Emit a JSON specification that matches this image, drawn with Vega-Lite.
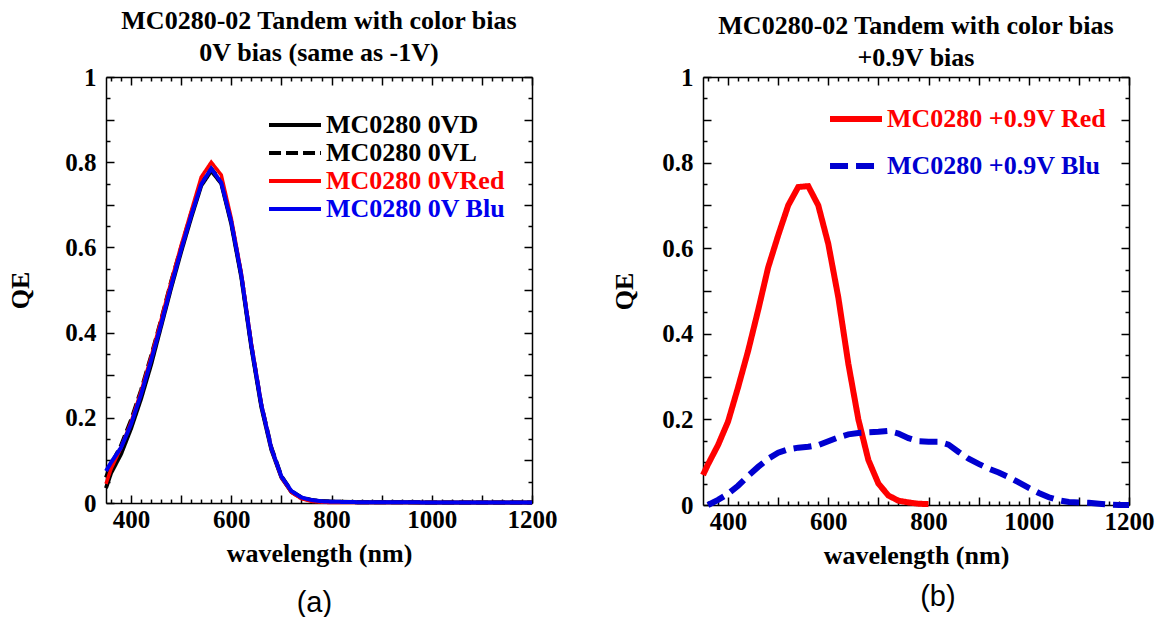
{
  "$schema": "https://vega.github.io/schema/vega-lite/v6.json",
  "background": "white",
  "padding": {"left": 7, "top": 8, "right": 2, "bottom": 0},
  "config": {
    "view": {"stroke": null},
    "axis": {
      "domainColor": "black", "domainWidth": 1.5, "tickColor": "black", "tickWidth": 1.5,
      "labelFont": "Liberation Serif", "labelFontWeight": "bold", "labelFontSize": 25, "labelColor": "black",
      "titleFont": "Liberation Serif", "titleFontWeight": "bold", "titleFontSize": 26, "titleColor": "black",
      "grid": false, "labelOverlap": false, "labelFlush": false
    },
    "legend": {
      "labelFont": "Liberation Serif", "labelFontWeight": "bold", "labelFontSize": 26, "labelLimit": 0,
      "padding": 0
    }
  },
  "datasets": {
    "a": [
      {"series": "MC0280 0VD", "wl": 350, "qe": 0.035}, {"series": "MC0280 0VD", "wl": 360, "qe": 0.07}, {"series": "MC0280 0VD", "wl": 380, "qe": 0.115}, {"series": "MC0280 0VD", "wl": 400, "qe": 0.175}, {"series": "MC0280 0VD", "wl": 420, "qe": 0.245}, {"series": "MC0280 0VD", "wl": 440, "qe": 0.325}, {"series": "MC0280 0VD", "wl": 460, "qe": 0.415}, {"series": "MC0280 0VD", "wl": 480, "qe": 0.505}, {"series": "MC0280 0VD", "wl": 500, "qe": 0.59}, {"series": "MC0280 0VD", "wl": 520, "qe": 0.67}, {"series": "MC0280 0VD", "wl": 540, "qe": 0.745}, {"series": "MC0280 0VD", "wl": 560, "qe": 0.78}, {"series": "MC0280 0VD", "wl": 580, "qe": 0.75}, {"series": "MC0280 0VD", "wl": 600, "qe": 0.655}, {"series": "MC0280 0VD", "wl": 620, "qe": 0.53}, {"series": "MC0280 0VD", "wl": 640, "qe": 0.365}, {"series": "MC0280 0VD", "wl": 660, "qe": 0.225}, {"series": "MC0280 0VD", "wl": 680, "qe": 0.125}, {"series": "MC0280 0VD", "wl": 700, "qe": 0.06}, {"series": "MC0280 0VD", "wl": 720, "qe": 0.026}, {"series": "MC0280 0VD", "wl": 740, "qe": 0.012}, {"series": "MC0280 0VD", "wl": 760, "qe": 0.006}, {"series": "MC0280 0VD", "wl": 780, "qe": 0.004}, {"series": "MC0280 0VD", "wl": 800, "qe": 0.003}, {"series": "MC0280 0VD", "wl": 850, "qe": 0.002}, {"series": "MC0280 0VD", "wl": 900, "qe": 0.002}, {"series": "MC0280 0VD", "wl": 950, "qe": 0.002}, {"series": "MC0280 0VD", "wl": 1000, "qe": 0.001}, {"series": "MC0280 0VD", "wl": 1050, "qe": 0.001}, {"series": "MC0280 0VD", "wl": 1100, "qe": 0.001}, {"series": "MC0280 0VD", "wl": 1150, "qe": 0.001}, {"series": "MC0280 0VD", "wl": 1200, "qe": 0.001},
      {"series": "MC0280 0VL", "wl": 350, "qe": 0.06}, {"series": "MC0280 0VL", "wl": 360, "qe": 0.09}, {"series": "MC0280 0VL", "wl": 380, "qe": 0.135}, {"series": "MC0280 0VL", "wl": 400, "qe": 0.195}, {"series": "MC0280 0VL", "wl": 420, "qe": 0.265}, {"series": "MC0280 0VL", "wl": 440, "qe": 0.345}, {"series": "MC0280 0VL", "wl": 460, "qe": 0.43}, {"series": "MC0280 0VL", "wl": 480, "qe": 0.52}, {"series": "MC0280 0VL", "wl": 500, "qe": 0.6}, {"series": "MC0280 0VL", "wl": 520, "qe": 0.68}, {"series": "MC0280 0VL", "wl": 540, "qe": 0.75}, {"series": "MC0280 0VL", "wl": 560, "qe": 0.785}, {"series": "MC0280 0VL", "wl": 580, "qe": 0.755}, {"series": "MC0280 0VL", "wl": 600, "qe": 0.66}, {"series": "MC0280 0VL", "wl": 620, "qe": 0.535}, {"series": "MC0280 0VL", "wl": 640, "qe": 0.37}, {"series": "MC0280 0VL", "wl": 660, "qe": 0.23}, {"series": "MC0280 0VL", "wl": 680, "qe": 0.13}, {"series": "MC0280 0VL", "wl": 700, "qe": 0.063}, {"series": "MC0280 0VL", "wl": 720, "qe": 0.028}, {"series": "MC0280 0VL", "wl": 740, "qe": 0.013}, {"series": "MC0280 0VL", "wl": 760, "qe": 0.007}, {"series": "MC0280 0VL", "wl": 780, "qe": 0.004}, {"series": "MC0280 0VL", "wl": 800, "qe": 0.003}, {"series": "MC0280 0VL", "wl": 850, "qe": 0.002}, {"series": "MC0280 0VL", "wl": 900, "qe": 0.002}, {"series": "MC0280 0VL", "wl": 950, "qe": 0.002}, {"series": "MC0280 0VL", "wl": 1000, "qe": 0.001}, {"series": "MC0280 0VL", "wl": 1050, "qe": 0.001}, {"series": "MC0280 0VL", "wl": 1100, "qe": 0.001}, {"series": "MC0280 0VL", "wl": 1150, "qe": 0.001}, {"series": "MC0280 0VL", "wl": 1200, "qe": 0.001},
      {"series": "MC0280 0VRed", "wl": 350, "qe": 0.045}, {"series": "MC0280 0VRed", "wl": 360, "qe": 0.08}, {"series": "MC0280 0VRed", "wl": 380, "qe": 0.13}, {"series": "MC0280 0VRed", "wl": 400, "qe": 0.19}, {"series": "MC0280 0VRed", "wl": 420, "qe": 0.262}, {"series": "MC0280 0VRed", "wl": 440, "qe": 0.343}, {"series": "MC0280 0VRed", "wl": 460, "qe": 0.43}, {"series": "MC0280 0VRed", "wl": 480, "qe": 0.52}, {"series": "MC0280 0VRed", "wl": 500, "qe": 0.605}, {"series": "MC0280 0VRed", "wl": 520, "qe": 0.685}, {"series": "MC0280 0VRed", "wl": 540, "qe": 0.765}, {"series": "MC0280 0VRed", "wl": 560, "qe": 0.8}, {"series": "MC0280 0VRed", "wl": 580, "qe": 0.77}, {"series": "MC0280 0VRed", "wl": 600, "qe": 0.668}, {"series": "MC0280 0VRed", "wl": 620, "qe": 0.54}, {"series": "MC0280 0VRed", "wl": 640, "qe": 0.375}, {"series": "MC0280 0VRed", "wl": 660, "qe": 0.232}, {"series": "MC0280 0VRed", "wl": 680, "qe": 0.128}, {"series": "MC0280 0VRed", "wl": 700, "qe": 0.06}, {"series": "MC0280 0VRed", "wl": 720, "qe": 0.025}, {"series": "MC0280 0VRed", "wl": 740, "qe": 0.01}, {"series": "MC0280 0VRed", "wl": 760, "qe": 0.004}, {"series": "MC0280 0VRed", "wl": 780, "qe": 0.002}, {"series": "MC0280 0VRed", "wl": 800, "qe": 0.001}, {"series": "MC0280 0VRed", "wl": 850, "qe": 0.001}, {"series": "MC0280 0VRed", "wl": 900, "qe": 0.001}, {"series": "MC0280 0VRed", "wl": 950, "qe": 0.001}, {"series": "MC0280 0VRed", "wl": 1000, "qe": 0.001}, {"series": "MC0280 0VRed", "wl": 1050, "qe": 0.001}, {"series": "MC0280 0VRed", "wl": 1100, "qe": 0.001}, {"series": "MC0280 0VRed", "wl": 1150, "qe": 0.001}, {"series": "MC0280 0VRed", "wl": 1200, "qe": 0.001},
      {"series": "MC0280 0V Blu", "wl": 350, "qe": 0.075}, {"series": "MC0280 0V Blu", "wl": 360, "qe": 0.095}, {"series": "MC0280 0V Blu", "wl": 380, "qe": 0.13}, {"series": "MC0280 0V Blu", "wl": 400, "qe": 0.185}, {"series": "MC0280 0V Blu", "wl": 420, "qe": 0.255}, {"series": "MC0280 0V Blu", "wl": 440, "qe": 0.335}, {"series": "MC0280 0V Blu", "wl": 460, "qe": 0.42}, {"series": "MC0280 0V Blu", "wl": 480, "qe": 0.51}, {"series": "MC0280 0V Blu", "wl": 500, "qe": 0.595}, {"series": "MC0280 0V Blu", "wl": 520, "qe": 0.675}, {"series": "MC0280 0V Blu", "wl": 540, "qe": 0.748}, {"series": "MC0280 0V Blu", "wl": 560, "qe": 0.785}, {"series": "MC0280 0V Blu", "wl": 580, "qe": 0.752}, {"series": "MC0280 0V Blu", "wl": 600, "qe": 0.66}, {"series": "MC0280 0V Blu", "wl": 620, "qe": 0.535}, {"series": "MC0280 0V Blu", "wl": 640, "qe": 0.37}, {"series": "MC0280 0V Blu", "wl": 660, "qe": 0.23}, {"series": "MC0280 0V Blu", "wl": 680, "qe": 0.128}, {"series": "MC0280 0V Blu", "wl": 700, "qe": 0.062}, {"series": "MC0280 0V Blu", "wl": 720, "qe": 0.028}, {"series": "MC0280 0V Blu", "wl": 740, "qe": 0.013}, {"series": "MC0280 0V Blu", "wl": 760, "qe": 0.007}, {"series": "MC0280 0V Blu", "wl": 780, "qe": 0.004}, {"series": "MC0280 0V Blu", "wl": 800, "qe": 0.003}, {"series": "MC0280 0V Blu", "wl": 850, "qe": 0.002}, {"series": "MC0280 0V Blu", "wl": 900, "qe": 0.002}, {"series": "MC0280 0V Blu", "wl": 950, "qe": 0.002}, {"series": "MC0280 0V Blu", "wl": 1000, "qe": 0.001}, {"series": "MC0280 0V Blu", "wl": 1050, "qe": 0.001}, {"series": "MC0280 0V Blu", "wl": 1100, "qe": 0.001}, {"series": "MC0280 0V Blu", "wl": 1150, "qe": 0.001}, {"series": "MC0280 0V Blu", "wl": 1200, "qe": 0.001}
    ],
    "b": [
      {"series": "MC0280 +0.9V Red", "wl": 350, "qe": 0.07}, {"series": "MC0280 +0.9V Red", "wl": 360, "qe": 0.095}, {"series": "MC0280 +0.9V Red", "wl": 380, "qe": 0.14}, {"series": "MC0280 +0.9V Red", "wl": 400, "qe": 0.195}, {"series": "MC0280 +0.9V Red", "wl": 420, "qe": 0.275}, {"series": "MC0280 +0.9V Red", "wl": 440, "qe": 0.36}, {"series": "MC0280 +0.9V Red", "wl": 460, "qe": 0.455}, {"series": "MC0280 +0.9V Red", "wl": 480, "qe": 0.555}, {"series": "MC0280 +0.9V Red", "wl": 500, "qe": 0.63}, {"series": "MC0280 +0.9V Red", "wl": 520, "qe": 0.7}, {"series": "MC0280 +0.9V Red", "wl": 540, "qe": 0.743}, {"series": "MC0280 +0.9V Red", "wl": 560, "qe": 0.745}, {"series": "MC0280 +0.9V Red", "wl": 580, "qe": 0.7}, {"series": "MC0280 +0.9V Red", "wl": 600, "qe": 0.61}, {"series": "MC0280 +0.9V Red", "wl": 620, "qe": 0.485}, {"series": "MC0280 +0.9V Red", "wl": 640, "qe": 0.33}, {"series": "MC0280 +0.9V Red", "wl": 660, "qe": 0.2}, {"series": "MC0280 +0.9V Red", "wl": 680, "qe": 0.105}, {"series": "MC0280 +0.9V Red", "wl": 700, "qe": 0.05}, {"series": "MC0280 +0.9V Red", "wl": 720, "qe": 0.022}, {"series": "MC0280 +0.9V Red", "wl": 740, "qe": 0.01}, {"series": "MC0280 +0.9V Red", "wl": 760, "qe": 0.006}, {"series": "MC0280 +0.9V Red", "wl": 780, "qe": 0.003}, {"series": "MC0280 +0.9V Red", "wl": 800, "qe": 0.002},
      {"series": "MC0280 +0.9V Blu", "wl": 360, "qe": 0.0}, {"series": "MC0280 +0.9V Blu", "wl": 380, "qe": 0.012}, {"series": "MC0280 +0.9V Blu", "wl": 400, "qe": 0.026}, {"series": "MC0280 +0.9V Blu", "wl": 420, "qe": 0.045}, {"series": "MC0280 +0.9V Blu", "wl": 440, "qe": 0.068}, {"series": "MC0280 +0.9V Blu", "wl": 460, "qe": 0.089}, {"series": "MC0280 +0.9V Blu", "wl": 480, "qe": 0.108}, {"series": "MC0280 +0.9V Blu", "wl": 500, "qe": 0.122}, {"series": "MC0280 +0.9V Blu", "wl": 520, "qe": 0.13}, {"series": "MC0280 +0.9V Blu", "wl": 540, "qe": 0.134}, {"series": "MC0280 +0.9V Blu", "wl": 560, "qe": 0.136}, {"series": "MC0280 +0.9V Blu", "wl": 580, "qe": 0.14}, {"series": "MC0280 +0.9V Blu", "wl": 600, "qe": 0.149}, {"series": "MC0280 +0.9V Blu", "wl": 620, "qe": 0.158}, {"series": "MC0280 +0.9V Blu", "wl": 640, "qe": 0.165}, {"series": "MC0280 +0.9V Blu", "wl": 660, "qe": 0.168}, {"series": "MC0280 +0.9V Blu", "wl": 680, "qe": 0.17}, {"series": "MC0280 +0.9V Blu", "wl": 700, "qe": 0.171}, {"series": "MC0280 +0.9V Blu", "wl": 720, "qe": 0.173}, {"series": "MC0280 +0.9V Blu", "wl": 740, "qe": 0.167}, {"series": "MC0280 +0.9V Blu", "wl": 760, "qe": 0.156}, {"series": "MC0280 +0.9V Blu", "wl": 780, "qe": 0.149}, {"series": "MC0280 +0.9V Blu", "wl": 800, "qe": 0.148}, {"series": "MC0280 +0.9V Blu", "wl": 820, "qe": 0.148}, {"series": "MC0280 +0.9V Blu", "wl": 840, "qe": 0.141}, {"series": "MC0280 +0.9V Blu", "wl": 860, "qe": 0.124}, {"series": "MC0280 +0.9V Blu", "wl": 880, "qe": 0.108}, {"series": "MC0280 +0.9V Blu", "wl": 900, "qe": 0.096}, {"series": "MC0280 +0.9V Blu", "wl": 920, "qe": 0.085}, {"series": "MC0280 +0.9V Blu", "wl": 940, "qe": 0.076}, {"series": "MC0280 +0.9V Blu", "wl": 960, "qe": 0.065}, {"series": "MC0280 +0.9V Blu", "wl": 980, "qe": 0.053}, {"series": "MC0280 +0.9V Blu", "wl": 1000, "qe": 0.04}, {"series": "MC0280 +0.9V Blu", "wl": 1020, "qe": 0.028}, {"series": "MC0280 +0.9V Blu", "wl": 1040, "qe": 0.018}, {"series": "MC0280 +0.9V Blu", "wl": 1060, "qe": 0.011}, {"series": "MC0280 +0.9V Blu", "wl": 1080, "qe": 0.007}, {"series": "MC0280 +0.9V Blu", "wl": 1100, "qe": 0.006}, {"series": "MC0280 +0.9V Blu", "wl": 1120, "qe": 0.005}, {"series": "MC0280 +0.9V Blu", "wl": 1140, "qe": 0.003}, {"series": "MC0280 +0.9V Blu", "wl": 1160, "qe": 0.001}, {"series": "MC0280 +0.9V Blu", "wl": 1180, "qe": 0.0}, {"series": "MC0280 +0.9V Blu", "wl": 1200, "qe": 0.0}
    ]
  },
  "spacing": 54,
  "resolve": {
    "scale": {"x": "independent", "y": "independent", "color": "independent", "strokeDash": "independent"},
    "legend": {"color": "independent", "strokeDash": "independent"}
  },
  "hconcat": [
    {
      "title": {"text": "(a)", "orient": "bottom", "font": "Liberation Sans", "fontWeight": "normal", "fontSize": 29, "color": "black", "offset": 23, "anchor": "middle", "dx": 32},
      "vconcat": [
        {
          "width": 426, "height": 426,
          "title": {"text": ["MC0280-02 Tandem with color bias", "0V bias (same as -1V)"], "frame": "group", "anchor": "middle", "font": "Liberation Serif", "fontWeight": "bold", "fontSize": 26, "lineHeight": 32, "offset": -1, "color": "black"},
          "data": {"name": "a"},
          "resolve": {"axis": {"x": "independent", "y": "independent"}},
          "layer": [
            {
              "transform": [{"filter": "datum.series === 'MC0280 0VD'"}],
              "mark": {"type": "line", "strokeWidth": 4},
              "encoding": {
                "x": {"field": "wl", "type": "quantitative", "scale": {"domain": [350, 1200], "nice": false, "zero": false},
                  "axis": {"orient": "bottom", "format": "d", "values": [360,380,400,420,440,460,480,500,520,540,560,580,600,620,640,660,680,700,720,740,760,780,800,820,840,860,880,900,920,940,960,980,1000,1020,1040,1060,1080,1100,1120,1140,1160,1180,1200],
                    "tickSize": {"condition": {"test": "datum.value % 100 === 0", "value": -8}, "value": -4},
                    "labelExpr": "datum.value % 200 === 0 ? datum.label : ''", "title": "wavelength (nm)", "labelPadding": 12, "titlePadding": 4}},
                "y": {"field": "qe", "type": "quantitative", "scale": {"domain": [0, 1], "nice": false},
                  "axis": {"orient": "left", "values": [0,0.05,0.1,0.15,0.2,0.25,0.3,0.35,0.4,0.45,0.5,0.55,0.6,0.65,0.7,0.75,0.8,0.85,0.9,0.95,1],
                    "tickSize": {"condition": {"test": "abs(datum.value*10 - round(datum.value*10)) < 0.001", "value": -8}, "value": -4},
                    "labelExpr": "abs(datum.value*5 - round(datum.value*5)) < 0.001 ? format(datum.value, '~g') : ''", "title": "QE", "labelPadding": 18, "titlePadding": 31}},
                "color": {"field": "series", "type": "nominal", "scale": {"domain": ["MC0280 0VD", "MC0280 0VL", "MC0280 0VRed", "MC0280 0V Blu"], "range": ["#000000", "#000000", "#ff0000", "#0000ee"]},
                  "legend": {"orient": "none", "legendX": 176, "legendY": 35, "title": null, "symbolType": "M-3,0H3", "symbolSize": 300, "symbolStrokeWidth": 4, "labelOffset": 18, "rowPadding": 2,
                    "labelColor": {"expr": "datum.label === 'MC0280 0VRed' ? '#ff0000' : datum.label === 'MC0280 0V Blu' ? '#0000ee' : '#000000'"}}},
                "strokeDash": {"field": "series", "type": "nominal", "scale": {"domain": ["MC0280 0VD", "MC0280 0VL", "MC0280 0VRed", "MC0280 0V Blu"], "range": [[1, 0], [12, 5], [1, 0], [1, 0]]}}
              }
            },
            {
              "transform": [{"filter": "datum.series === 'MC0280 0VL'"}],
              "mark": {"type": "line", "strokeWidth": 4},
              "encoding": {
                "x": {"field": "wl", "type": "quantitative", "scale": {"domain": [350, 1200], "nice": false, "zero": false},
                  "axis": {"orient": "top", "values": [360,380,400,420,440,460,480,500,520,540,560,580,600,620,640,660,680,700,720,740,760,780,800,820,840,860,880,900,920,940,960,980,1000,1020,1040,1060,1080,1100,1120,1140,1160,1180,1200],
                    "tickSize": {"condition": {"test": "datum.value % 100 === 0", "value": -8}, "value": -4}, "labels": false, "title": null}},
                "y": {"field": "qe", "type": "quantitative", "scale": {"domain": [0, 1], "nice": false},
                  "axis": {"orient": "right", "values": [0,0.05,0.1,0.15,0.2,0.25,0.3,0.35,0.4,0.45,0.5,0.55,0.6,0.65,0.7,0.75,0.8,0.85,0.9,0.95,1],
                    "tickSize": {"condition": {"test": "abs(datum.value*10 - round(datum.value*10)) < 0.001", "value": -8}, "value": -4}, "labels": false, "title": null}},
                "color": {"field": "series", "type": "nominal"},
                "strokeDash": {"field": "series", "type": "nominal"}
              }
            },
            {
              "transform": [{"filter": "datum.series === 'MC0280 0VRed'"}],
              "mark": {"type": "line", "strokeWidth": 3.5},
              "encoding": {
                "x": {"field": "wl", "type": "quantitative", "axis": null},
                "y": {"field": "qe", "type": "quantitative", "axis": null},
                "color": {"field": "series", "type": "nominal"},
                "strokeDash": {"field": "series", "type": "nominal"}
              }
            },
            {
              "transform": [{"filter": "datum.series === 'MC0280 0V Blu'"}],
              "mark": {"type": "line", "strokeWidth": 4},
              "encoding": {
                "x": {"field": "wl", "type": "quantitative", "axis": null},
                "y": {"field": "qe", "type": "quantitative", "axis": null},
                "color": {"field": "series", "type": "nominal"},
                "strokeDash": {"field": "series", "type": "nominal"}
              }
            }
          ]
        }
      ]
    },
    {
      "title": {"text": "(b)", "orient": "bottom", "font": "Liberation Sans", "fontWeight": "normal", "fontSize": 29, "color": "black", "offset": 15, "anchor": "middle", "dx": 55},
      "vconcat": [
        {
          "width": 426, "height": 428,
          "title": {"text": ["MC0280-02 Tandem with color bias", "+0.9V bias"], "frame": "group", "anchor": "middle", "font": "Liberation Serif", "fontWeight": "bold", "fontSize": 26, "lineHeight": 32, "offset": -1, "dy": 5, "color": "black"},
          "data": {"name": "b"},
          "resolve": {"axis": {"x": "independent", "y": "independent"}},
          "layer": [
            {
              "transform": [{"filter": "datum.series === 'MC0280 +0.9V Red'"}],
              "mark": {"type": "line", "strokeWidth": 6},
              "encoding": {
                "x": {"field": "wl", "type": "quantitative", "scale": {"domain": [350, 1200], "nice": false, "zero": false},
                  "axis": {"orient": "bottom", "format": "d", "values": [360,380,400,420,440,460,480,500,520,540,560,580,600,620,640,660,680,700,720,740,760,780,800,820,840,860,880,900,920,940,960,980,1000,1020,1040,1060,1080,1100,1120,1140,1160,1180,1200],
                    "tickSize": {"condition": {"test": "datum.value % 100 === 0", "value": -8}, "value": -4},
                    "labelExpr": "datum.value % 200 === 0 ? datum.label : ''", "title": "wavelength (nm)", "labelPadding": 12, "titlePadding": 4}},
                "y": {"field": "qe", "type": "quantitative", "scale": {"domain": [0, 1], "nice": false},
                  "axis": {"orient": "left", "values": [0,0.05,0.1,0.15,0.2,0.25,0.3,0.35,0.4,0.45,0.5,0.55,0.6,0.65,0.7,0.75,0.8,0.85,0.9,0.95,1],
                    "tickSize": {"condition": {"test": "abs(datum.value*10 - round(datum.value*10)) < 0.001", "value": -8}, "value": -4},
                    "labelExpr": "abs(datum.value*5 - round(datum.value*5)) < 0.001 ? format(datum.value, '~g') : ''", "title": "QE", "labelPadding": 18, "titlePadding": 24}},
                "color": {"field": "series", "type": "nominal", "scale": {"domain": ["MC0280 +0.9V Red", "MC0280 +0.9V Blu"], "range": ["#ff0000", "#0000d0"]},
                  "legend": {"orient": "none", "legendX": 140, "legendY": 29, "title": null, "symbolType": "M-3,0H3", "symbolSize": 300, "symbolStrokeWidth": 6, "labelOffset": 18, "rowPadding": 21,
                    "labelColor": {"expr": "datum.label === 'MC0280 +0.9V Red' ? '#ff0000' : '#0000d0'"}}},
                "strokeDash": {"field": "series", "type": "nominal", "scale": {"domain": ["MC0280 +0.9V Red", "MC0280 +0.9V Blu"], "range": [[1, 0], [18, 8]]}}
              }
            },
            {
              "transform": [{"filter": "datum.series === 'MC0280 +0.9V Blu'"}],
              "mark": {"type": "line", "strokeWidth": 6},
              "encoding": {
                "x": {"field": "wl", "type": "quantitative", "scale": {"domain": [350, 1200], "nice": false, "zero": false},
                  "axis": {"orient": "top", "values": [360,380,400,420,440,460,480,500,520,540,560,580,600,620,640,660,680,700,720,740,760,780,800,820,840,860,880,900,920,940,960,980,1000,1020,1040,1060,1080,1100,1120,1140,1160,1180,1200],
                    "tickSize": {"condition": {"test": "datum.value % 100 === 0", "value": -8}, "value": -4}, "labels": false, "title": null}},
                "y": {"field": "qe", "type": "quantitative", "scale": {"domain": [0, 1], "nice": false},
                  "axis": {"orient": "right", "values": [0,0.05,0.1,0.15,0.2,0.25,0.3,0.35,0.4,0.45,0.5,0.55,0.6,0.65,0.7,0.75,0.8,0.85,0.9,0.95,1],
                    "tickSize": {"condition": {"test": "abs(datum.value*10 - round(datum.value*10)) < 0.001", "value": -8}, "value": -4}, "labels": false, "title": null}},
                "color": {"field": "series", "type": "nominal"},
                "strokeDash": {"field": "series", "type": "nominal"}
              }
            }
          ]
        }
      ]
    }
  ]
}
